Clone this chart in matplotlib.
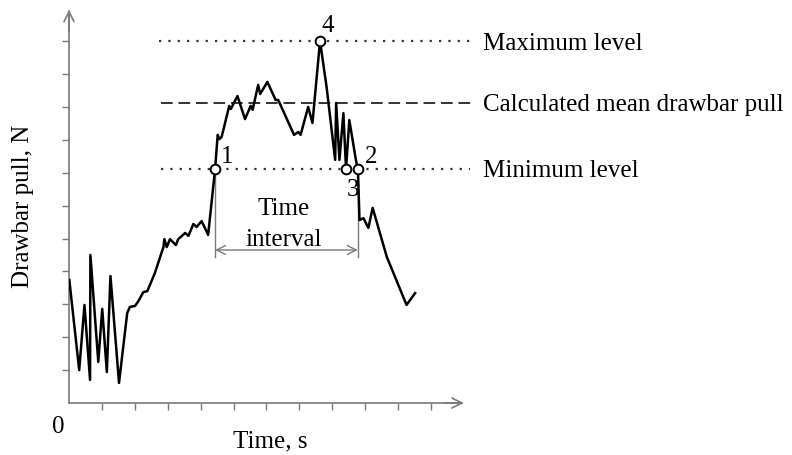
import matplotlib.pyplot as plt

plt.rcParams['font.family'] = ['Liberation Serif', 'DejaVu Serif']

# Courbe de l'effort de traction (unités = intervalles de graduation)
temps = [0.01, 0.31, 0.47, 0.64, 0.65, 0.89, 1.01, 1.15, 1.26, 1.52, 1.77, 1.85,
         2.01, 2.11, 2.26, 2.38, 2.61, 2.87, 2.90, 2.97, 3.07, 3.25, 3.32, 3.40,
         3.53, 3.63, 3.78, 3.88, 4.03, 4.23, 4.44, 4.52, 4.57, 4.64, 4.87, 4.92,
         5.12, 5.35, 5.52, 5.58, 5.75, 5.81, 6.03, 6.28, 6.36, 6.84, 6.97, 7.04,
         7.27, 7.40, 7.63, 7.83, 8.09, 8.12, 8.22, 8.34, 8.42, 8.52, 8.72, 8.78,
         8.83, 8.95, 9.10, 9.23, 9.66, 10.26, 10.52]
effort = [3.74, 1.00, 2.98, 0.70, 4.50, 1.25, 2.86, 0.94, 3.86, 0.61, 2.74, 2.92,
          2.95, 3.10, 3.37, 3.40, 3.95, 4.74, 4.98, 4.74, 4.98, 4.80, 4.98, 5.05,
          5.17, 5.08, 5.44, 5.35, 5.53, 5.11, 7.11, 8.15, 8.02, 8.09, 9.03, 8.94,
          9.33, 8.63, 9.03, 8.91, 9.67, 9.39, 9.76, 9.21, 9.21, 8.15, 8.24, 8.15,
          9.00, 8.51, 11.00, 9.60, 7.39, 9.12, 7.39, 8.81, 7.11, 8.60, 7.39, 7.11,
          5.56, 5.62, 5.32, 5.93, 4.44, 2.98, 3.34]

niveau_max = 11.0
niveau_moyen = 9.12
niveau_min = 7.11

# Points remarquables 1, 2, 3, 4
points_t = [4.44, 8.78, 8.42, 7.63]
points_f = [niveau_min, niveau_min, niveau_min, niveau_max]
points_noms = ['1', '2', '3', '4']

graduations = list(range(1, 12))

gris = '#7a7a7a'
s = 32.9  # pixels par graduation
taille = 18

fig = plt.figure(figsize=(7.92, 4.55), dpi=100)
ax = fig.add_axes([69 / 792, 52 / 455, 723 / 792, 403 / 455])
ax.set_xlim(0, 723 / s)
ax.set_ylim(0, 403 / s)

# Axes avec flèches
for cote in ['top', 'right']:
    ax.spines[cote].set_visible(False)
ax.spines['left'].set_bounds(0, 11.9)
ax.spines['bottom'].set_bounds(0, 11.95)
for cote in ['left', 'bottom']:
    ax.spines[cote].set_color(gris)
    ax.spines[cote].set_linewidth(1.2)
ax.set_xticks(graduations)
ax.set_yticks(graduations)
ax.set_xticklabels([])
ax.set_yticklabels([])
ax.tick_params(direction='out', length=5, width=1, color=gris)
ax.annotate('', xy=(0, 11.95), xytext=(0, 11.3),
            arrowprops=dict(arrowstyle='->', color=gris, lw=1.2,
                            mutation_scale=18, shrinkA=0, shrinkB=0),
            annotation_clip=False)
ax.annotate('', xy=(12.0, 0), xytext=(11.4, 0),
            arrowprops=dict(arrowstyle='->', color=gris, lw=1.2,
                            mutation_scale=18, shrinkA=0, shrinkB=0),
            annotation_clip=False)

# Niveaux horizontaux
debut = 2.74
ax.plot([debut, 12.19], [niveau_max, niveau_max], color='#333333',
        lw=1.6, ls=(0, (1, 3.2)), clip_on=False)
ax.plot([debut + 0.05, 12.37], [niveau_moyen, niveau_moyen], color='#333333',
        lw=1.4, ls=(0, (6, 3)), clip_on=False)
ax.plot([debut + 0.05, 12.19], [niveau_min, niveau_min], color='#333333',
        lw=1.6, ls=(0, (1, 3.2)), clip_on=False)

# Courbe
ax.plot(temps, effort, color='black', lw=1.8, zorder=3)

# Intervalle de temps
t1, t2 = points_t[0], points_t[1]
bas = (403 - 257) / s
ax.plot([t1, t1], [niveau_min, bas], color=gris, lw=1.0, zorder=2)
ax.plot([t2, t2], [niveau_min, bas], color=gris, lw=1.0, zorder=2)
ax.annotate('', xy=(t1, (403 - 250) / s), xytext=(t2, (403 - 250) / s),
            arrowprops=dict(arrowstyle='<->', color=gris, lw=1.0,
                            mutation_scale=16, shrinkA=0, shrinkB=0))
ax.text((t1 + t2) / 2 - 0.08, (403 - 215) / s, 'Time', ha='center',
        va='baseline', fontsize=taille)
ax.text((t1 + t2) / 2 - 0.08, (403 - 246) / s, 'interval', ha='center',
        va='baseline', fontsize=taille)

# Points marqués
ax.plot(points_t, points_f, 'o', ms=7, mfc='white', mec='black', mew=1.4,
        zorder=4, clip_on=False)
decalages = {'1': (0.36, 0.2), '2': (0.4, 0.2), '3': (0.2, -0.82), '4': (0.24, 0.28)}
for nom, t, f in zip(points_noms, points_t, points_f):
    dx, dy = decalages[nom]
    ax.text(t + dx, f + dy, nom, ha='center', va='baseline', fontsize=taille)

# Libellés des niveaux
ax.text(12.58, 10.73, 'Maximum level', fontsize=taille, va='baseline')
ax.text(12.58, 8.88, 'Calculated mean drawbar pull', fontsize=taille, va='baseline')
ax.text(12.58, 6.87, 'Minimum level', fontsize=taille, va='baseline')

# Titres des axes
ax.text(-0.33, -0.91, '0', ha='center', va='baseline', fontsize=taille, clip_on=False)
ax.text(6.11, -1.34, 'Time, s', ha='center', va='baseline', fontsize=taille, clip_on=False)
ax.text(-1.4, (403 - 206) / s, 'Drawbar pull, N', rotation=90, ha='center',
        va='center', fontsize=taille, clip_on=False)

plt.savefig('out.png', dpi=100)
